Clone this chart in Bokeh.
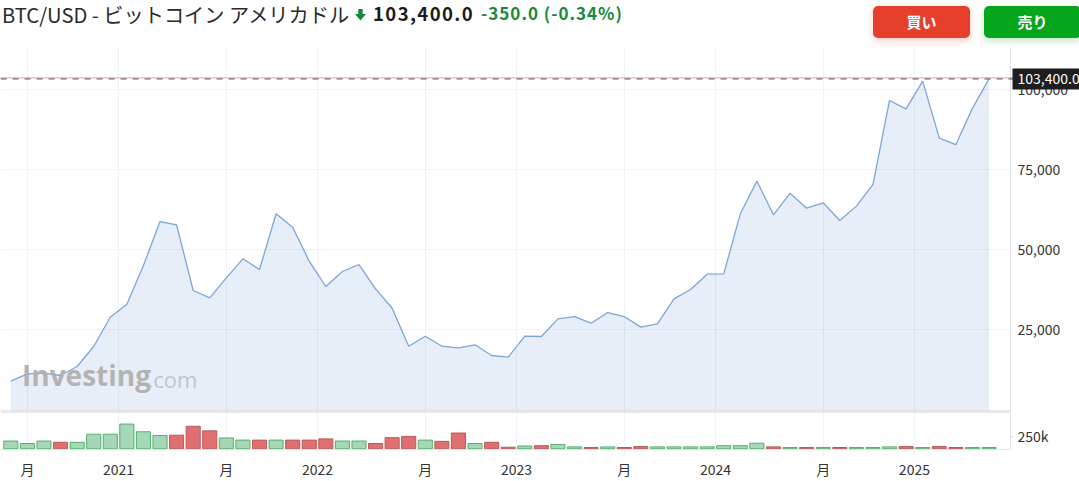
from bokeh.plotting import figure
from bokeh.layouts import column
from bokeh.models import (Range1d, FixedTicker, Span, Label, ColumnDataSource, Grid,
                          BoxAnnotation, Div)
from bokeh.core.properties import value
from bokeh.embed import file_html
from bokeh.resources import INLINE

# ---------------- data (monthly, Jun 2020 .. May 2025) ----------------
close = [8940, 11250, 11440, 10720, 13530, 19780, 28940, 33000, 45100, 58840,
         57800, 37280, 35000, 41250, 47180, 43840, 61250, 57060, 46440, 38530,
         43220, 45400, 37800, 31750, 19880, 23000, 19880, 19370, 20310, 16970,
         16440, 23000, 22900, 28430, 29150, 27070, 30400, 29150, 25830, 26870,
         34680, 37600, 42380, 42500, 61250, 71450, 60930, 67700, 63000, 64690,
         59160, 63650, 70400, 96660, 94060, 102700, 84880, 82900, 94200, 103400]
volume_k = [156, 106, 156, 131, 131, 294, 294, 500, 344, 269,
            275, 456, 363, 219, 175, 175, 175, 175, 175, 200,
            156, 156, 106, 225, 250, 175, 150, 319, 106, 131,
            31, 56, 62, 88, 38, 25, 38, 25, 44, 38,
            38, 38, 38, 62, 62, 112, 38, 25, 25, 25,
            25, 25, 25, 38, 44, 25, 44, 25, 25, 25]
direction = ["up", "up", "up", "down", "up", "up", "up", "up", "up", "up",
             "down", "down", "down", "up", "up", "down", "up", "down", "down", "down",
             "up", "up", "down", "down", "down", "up", "down", "down", "up", "down",
             "down", "up", "down", "up", "up", "down", "up", "down", "down", "up",
             "up", "up", "up", "up", "up", "up", "down", "up", "down", "up",
             "down", "up", "up", "up", "down", "up", "down", "down", "up", "up"]
tick_pos = [1.0, 6.5, 13.0, 18.5, 25.0, 30.5, 37.0, 42.5, 49.0, 54.5]
tick_labels = ["月", "2021", "月", "2022", "月", "2023", "月", "2024", "月", "2025"]
price_ticks = [25000, 50000, 75000, 100000]
vol_ticks = [250000]
vol_tick_labels = ["250k"]
last_price = 103400
change = -350.0
change_pct = -0.34
title = "BTC/USD - ビットコイン アメリカドル"
buy_label = "買い"
sell_label = "売り"

# ---------------- styling / layout ----------------
FONT = "Noto Sans CJK JP"
W = 1079
GREEN_TXT = "#16893e"
AX_LINE = "#e0e3eb"
GRID = "#eef1f6"
TXT = "#333333"

idx = list(range(len(close)))
x_start, x_end = -0.621, 64.457
axis_x = 60.296          # where the right-hand value scale sits
xr = Range1d(x_start, x_end)

# ---------------- header (HTML) ----------------
hdr_html = f"""
<div style="position:relative;width:{W}px;height:47px;margin:0;padding:0;font-family:'{FONT}',sans-serif;overflow:hidden;">
 <span style="position:absolute;left:2px;top:1px;font-size:20.2px;line-height:28px;color:#2a2a2a;white-space:nowrap;">{title}</span>
 <svg style="position:absolute;left:355px;top:9px;" width="11" height="12" viewBox="0 0 11 12">
   <polygon points="3.3,0 7.7,0 7.7,5 11,5 5.5,11.5 0,5 3.3,5" fill="{GREEN_TXT}"/></svg>
 <span style="position:absolute;left:373px;top:0px;font-size:18.5px;font-weight:bold;line-height:27px;letter-spacing:1.4px;color:#1c1c1c;white-space:nowrap;">{last_price:,.1f}</span>
 <span style="position:absolute;left:481px;top:1px;font-size:17px;font-weight:bold;line-height:24px;letter-spacing:1px;color:{GREEN_TXT};white-space:nowrap;">{change:,.1f} ({change_pct:.2f}%)</span>
 <div style="position:absolute;left:873px;top:6px;width:97px;height:32px;border-radius:5px;background:#e63f2b;box-shadow:0 3px 7px rgba(230,63,43,0.25);color:white;font-weight:bold;font-size:15px;line-height:32px;text-align:center;">{buy_label}</div>
 <div style="position:absolute;left:984px;top:6px;width:97px;height:32px;border-radius:5px;background:#05a51c;box-shadow:0 3px 7px rgba(5,165,28,0.25);color:white;font-weight:bold;font-size:15px;line-height:32px;text-align:center;">{sell_label}</div>
</div>
"""
hdr = Div(text=hdr_html, width=W, height=47, margin=0)

# ---------------- price panel ----------------
y_min, y_max = -530, 113220
p = figure(width=W, height=364, x_range=xr, y_range=Range1d(y_min, y_max),
           toolbar_location=None, output_backend="svg", x_axis_location=None,
           y_axis_location=None, min_border=0, outline_line_color=None, margin=0)
p.grid.visible = False
p.add_layout(Grid(dimension=0, ticker=FixedTicker(ticks=tick_pos), grid_line_color=GRID))
p.add_layout(Grid(dimension=1, ticker=FixedTicker(ticks=price_ticks), grid_line_color="#f2f3f5"))
p.add_layout(BoxAnnotation(left=axis_x, fill_color="white", fill_alpha=1.0,
                           line_color=None, level="underlay"))

src = ColumnDataSource(dict(x=idx, close=close))
p.varea(x="x", y1=y_min, y2="close", source=src, fill_color="#5b84c4", fill_alpha=0.14)
p.line("x", "close", source=src, line_color="#7ba6d9", line_width=1.3)
p.segment(x0=[x_start], x1=[axis_x], y0=[y_min], y1=[y_min], line_color="#d2d2d2", line_width=2)

# right-hand value scale
p.add_layout(Span(location=axis_x, dimension="height", line_color=AX_LINE, line_width=1))
tsrc = ColumnDataSource(dict(x=[axis_x] * len(price_ticks), y=price_ticks,
                             t=[f"{t:,}" for t in price_ticks]))
p.text(x="x", y="y", text="t", source=tsrc, x_offset=7, text_font=value(FONT),
       text_font_size="14px", text_color=TXT, text_baseline="middle")

prev_close = last_price - change
p.add_layout(Span(location=prev_close, dimension="width", line_color="#f6a3a3", line_width=1))
p.add_layout(Span(location=last_price, dimension="width", line_color="#4a4a4a",
                  line_width=1, line_dash="6 6"))
p.add_layout(Label(x=axis_x, y=last_price, x_offset=2, text=f"{last_price:,.1f}",
                   text_font=FONT, text_font_size="14px", text_color="white",
                   text_baseline="middle", background_fill_color="#1e1e1e", padding=5))
p.add_layout(Label(x=21.5, y=17.5, x_units="screen", y_units="screen", text="Investing",
                   text_font="Open Sans", text_font_size="28px", text_font_style="bold",
                   text_color="#b0b0b0", text_alpha=0.95))
p.add_layout(Label(x=147, y=17.5, x_units="screen", y_units="screen", text=".com",
                   text_font="Open Sans", text_font_size="22px",
                   text_color="#c2c2c2", text_alpha=0.95))

# ---------------- volume panel ----------------
vol = [vk * 1000 for vk in volume_k]
fills = ["#a6d7b6" if d == "up" else "#e06f6f" for d in direction]
lines = ["#52b06e" if d == "up" else "#b85a5a" for d in direction]
vsrc = ColumnDataSource(dict(x=idx, vol=vol, fill=fills, line=lines))
v_min, v_max = -15000, 755000
v = figure(width=W, height=70, x_range=xr, y_range=Range1d(v_min, v_max),
           toolbar_location=None, output_backend="svg", y_axis_location=None,
           min_border_left=0, min_border_right=0, min_border_top=0, min_border_bottom=29,
           outline_line_color=None, margin=0)
v.grid.visible = False
v.add_layout(Grid(dimension=0, ticker=FixedTicker(ticks=tick_pos), grid_line_color=GRID))
v.vbar(x="x", top="vol", width=0.85, source=vsrc, fill_color="fill", line_color="line",
       line_width=1)
v.segment(x0=[x_start], x1=[axis_x], y0=[v_max], y1=[v_max], line_color="#d2d2d2", line_width=2)
v.add_layout(Span(location=axis_x, dimension="height", line_color=AX_LINE, line_width=1))
v.ray(x=[axis_x], y=vol_ticks, length=3, length_units="screen", angle=0,
      line_color="#cfd3dc", line_width=1)
v.text(x=[axis_x] * len(vol_ticks), y=vol_ticks, text=vol_tick_labels, x_offset=7,
       text_font=value(FONT), text_font_size="14px", text_color=TXT, text_baseline="middle")

xa = v.xaxis[0]
xa.ticker = FixedTicker(ticks=tick_pos)
xa.major_label_overrides = {t: l for t, l in zip(tick_pos, tick_labels)}
xa.bounds = (x_start, axis_x)
xa.axis_line_color = AX_LINE
xa.major_tick_line_color = GRID
xa.minor_tick_line_color = None
xa.major_tick_out = 7
xa.major_tick_in = 0
xa.major_label_standoff = 2
xa.major_label_text_font = FONT
xa.major_label_text_font_size = "14px"
xa.major_label_text_color = TXT

layout = column(hdr, p, v, spacing=0, margin=0)
open("out.html", "w").write(file_html(layout, INLINE))
